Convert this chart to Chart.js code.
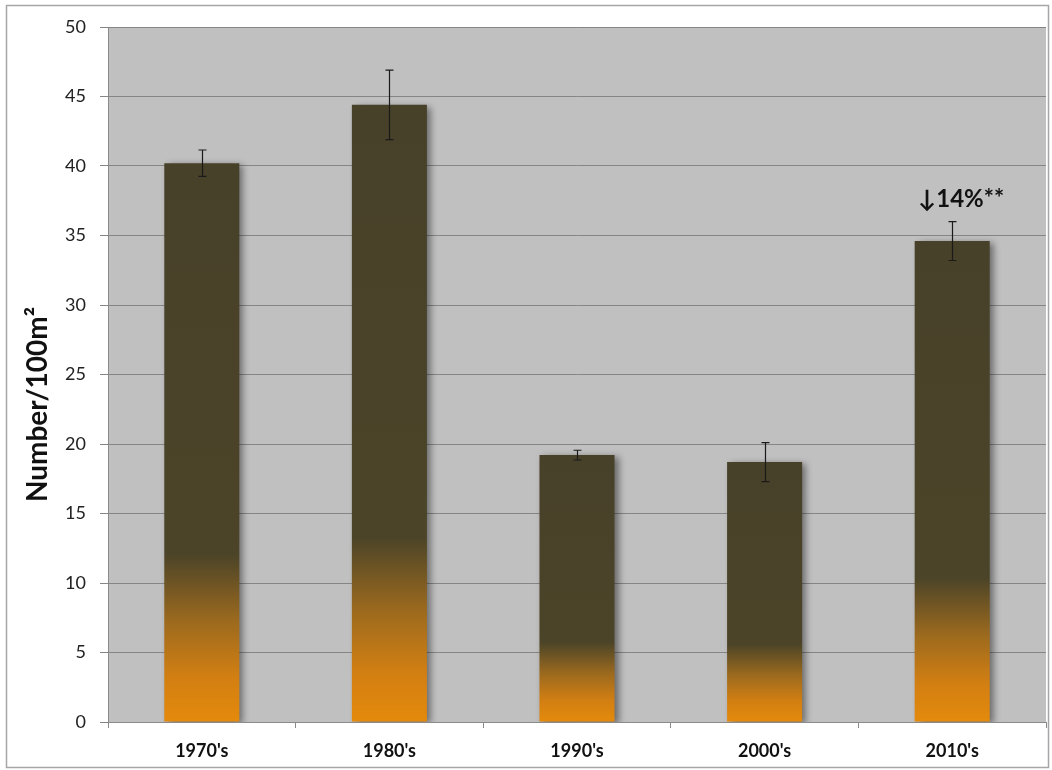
<!DOCTYPE html>
<html>
<head>
<meta charset="utf-8">
<script src="https://cdn.jsdelivr.net/npm/chart.js@4.4.1/dist/chart.umd.min.js"></script>
<style>
  html, body { margin: 0; padding: 0; background: #ffffff; }
  #wrap { width: 1052px; height: 770px; }
</style>
</head>
<body>
<div id="wrap"><canvas id="c" width="1052" height="770"></canvas></div>
<script>
const categories = ["1970's", "1980's", "1990's", "2000's", "2010's"];
const values = [40.2, 44.4, 19.2, 18.7, 34.6];
const errors = [0.95, 2.5, 0.35, 1.4, 1.4];
const yTicks = [0, 5, 10, 15, 20, 25, 30, 35, 40, 45, 50];
const yTitle = "Number/100m²";
const annotationText = "↓14%**";
const annotationIndex = 4;

function barGradient(context) {
  const chart = context.chart;
  if (!chart.chartArea || context.type !== 'data') return '#4a4328';
  const ys = chart.scales.y;
  const v = values[context.dataIndex];
  const top = ys.getPixelForValue(v);
  const bottom = ys.getPixelForValue(0);
  const g = chart.ctx.createLinearGradient(0, bottom, 0, top);
  g.addColorStop(0, '#e48a0c');
  g.addColorStop(0.08, '#d27f12');
  g.addColorStop(0.18, '#9c6a1e');
  g.addColorStop(0.3, '#4b4428');
  g.addColorStop(1, '#48412a');
  return g;
}

const bgPlugin = {
  id: 'bg',
  beforeDraw(chart) {
    const { ctx, chartArea: a } = chart;
    ctx.save();
    ctx.fillStyle = '#ffffff';
    ctx.fillRect(0, 0, chart.width, chart.height);
    ctx.fillStyle = '#c0c0c0';
    ctx.fillRect(a.left, a.top, a.right - a.left, a.bottom - a.top);
    ctx.strokeStyle = '#a6a6a6';
    ctx.lineWidth = 1.5;
    ctx.strokeRect(6.5, 5.5, chart.width - 10, chart.height - 8);
    // y-axis title
    ctx.translate(38, (a.top + a.bottom) / 2 + 30);
    ctx.rotate(-Math.PI / 2);
    ctx.fillStyle = '#111111';
    ctx.font = 'bold 28px Lato, "Open Sans", sans-serif';
    ctx.textAlign = 'center';
    ctx.textBaseline = 'middle';
    ctx.fillText(yTitle, 0, 0);
    ctx.restore();
  }
};

const shadowPlugin = {
  id: 'shadow',
  beforeDatasetsDraw(chart) {
    const ctx = chart.ctx;
    ctx.save();
    ctx.shadowColor = 'rgba(0,0,0,0.45)';
    ctx.shadowBlur = 7;
    ctx.shadowOffsetX = 4;
    ctx.shadowOffsetY = 2;
  },
  afterDatasetsDraw(chart) {
    chart.ctx.restore();
  }
};

const errorPlugin = {
  id: 'errors',
  afterDatasetsDraw(chart) {
    const { ctx } = chart;
    const meta = chart.getDatasetMeta(0);
    const ys = chart.scales.y;
    ctx.save();
    ctx.strokeStyle = '#1a1a1a';
    ctx.lineWidth = 1.2;
    meta.data.forEach((bar, i) => {
      const x = Math.round(bar.x) + 0.5;
      const yHi = ys.getPixelForValue(values[i] + errors[i]);
      const yLo = ys.getPixelForValue(values[i] - errors[i]);
      ctx.beginPath();
      ctx.moveTo(x, yHi); ctx.lineTo(x, yLo);
      ctx.moveTo(x - 4, yHi); ctx.lineTo(x + 4, yHi);
      ctx.moveTo(x - 4, yLo); ctx.lineTo(x + 4, yLo);
      ctx.stroke();
    });
    // annotation
    const b = meta.data[annotationIndex];
    const yTop = ys.getPixelForValue(values[annotationIndex] + errors[annotationIndex]);
    ctx.fillStyle = '#111111';
    ctx.font = 'bold 24px Lato, "DejaVu Sans", sans-serif';
    ctx.textAlign = 'center';
    ctx.textBaseline = 'bottom';
    ctx.fillText(annotationText, b.x + 9, yTop - 10);
    ctx.restore();
  }
};

new Chart(document.getElementById('c'), {
  type: 'bar',
  data: {
    labels: categories,
    datasets: [{
      data: values,
      backgroundColor: barGradient,
      borderWidth: 0,
      barPercentage: 0.4,
      categoryPercentage: 1.0
    }]
  },
  options: {
    responsive: false,
    animation: false,
    devicePixelRatio: 1,
    layout: { padding: { left: 6, right: 6, top: 27, bottom: 0 } },
    plugins: {
      legend: { display: false },
      tooltip: { enabled: false },
      title: { display: false }
    },
    scales: {
      x: {
        grid: {
          offset: true,
          drawOnChartArea: false,
          drawTicks: true,
          tickLength: 6,
          color: '#8a8a8a'
        },
        border: { display: true, color: '#8a8a8a', width: 1 },
        ticks: {
          color: '#111111',
          font: { family: 'Lato, "Open Sans", sans-serif', size: 18, weight: 'bold' },
          padding: 12
        },
        afterFit(scale) { scale.height = 48; }
      },
      y: {
        min: 0,
        max: 50,
        afterBuildTicks(scale) { scale.ticks = yTicks.map(v => ({ value: v })); },
        grid: {
          color: '#858585',
          lineWidth: 1,
          drawTicks: true,
          tickLength: 8
        },
        border: { display: true, color: '#8a8a8a', width: 1 },
        ticks: {
          color: '#222222',
          font: { family: 'Lato, "Open Sans", sans-serif', size: 18 },
          padding: 14
        },
        title: { display: false },
        afterFit(scale) { scale.width = 102; }
      }
    }
  },
  plugins: [bgPlugin, shadowPlugin, errorPlugin]
});
</script>
</body>
</html>
